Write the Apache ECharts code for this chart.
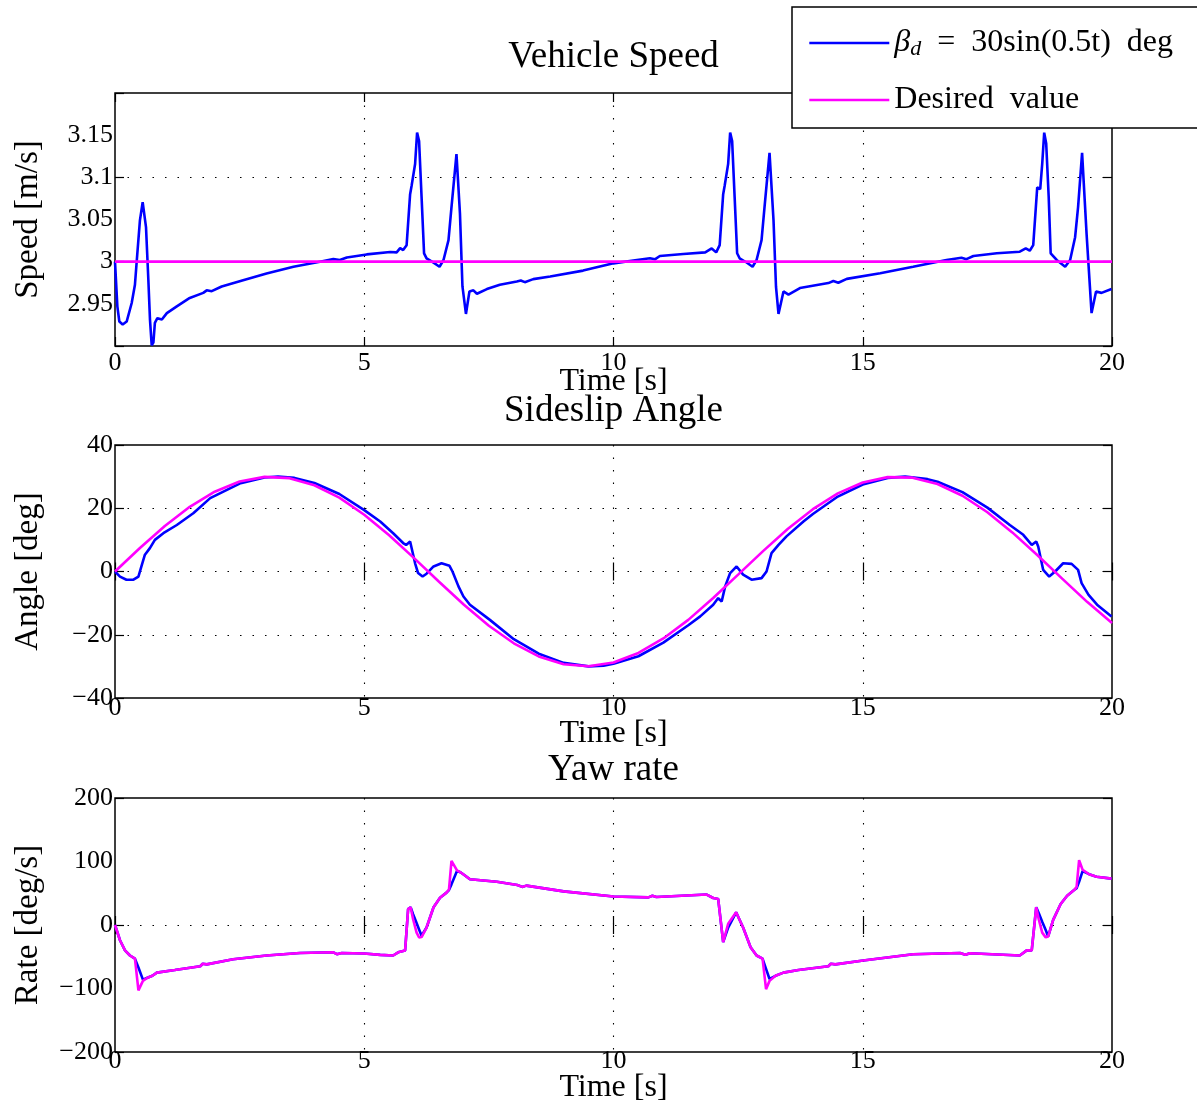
<!DOCTYPE html>
<html><head><meta charset="utf-8">
<script src="https://cdn.jsdelivr.net/npm/echarts@6/dist/echarts.min.js"></script>
<style>html,body{margin:0;padding:0;background:#fff}#c{width:1197px;height:1106px}</style>
</head><body><div id="c"></div>
<script>
// ---------- data ----------
const seriesNames = ['βd = 30sin(0.5t) deg', 'Desired value'];
const plotTitles = ['Vehicle Speed', 'Sideslip Angle', 'Yaw rate'];
const yNames = ['Speed [m/s]', 'Angle [deg]', 'Rate [deg/s]'];
const xName = 'Time [s]';
const xTickLabels = [0, 5, 10, 15, 20];

const speedTime = [0, 0.047, 0.087, 0.154, 0.234, 0.335, 0.40, 0.448, 0.50, 0.555, 0.588, 0.622, 0.669, 0.702, 0.736, 0.77, 0.80, 0.85, 0.94, 1.04, 1.24, 1.50, 1.77, 1.84, 1.94, 2.14, 2.57, 3.04, 3.58, 4.11, 4.38, 4.51, 4.65, 5.05, 5.52, 5.65, 5.72, 5.78, 5.85, 5.92, 5.95, 5.98, 6.02, 6.06, 6.10, 6.15, 6.20, 6.25, 6.39, 6.51, 6.59, 6.69, 6.75, 6.85, 6.92, 6.97, 7.04, 7.11, 7.19, 7.26, 7.46, 7.72, 8.06, 8.14, 8.22, 8.39, 8.73, 9.39, 10.0, 10.47, 10.73, 10.83, 10.93, 11.40, 11.84, 11.97, 12.06, 12.13, 12.20, 12.23, 12.26, 12.30, 12.34, 12.38, 12.43, 12.48, 12.53, 12.67, 12.79, 12.87, 12.97, 13.03, 13.13, 13.21, 13.26, 13.31, 13.41, 13.51, 13.74, 14.31, 14.41, 14.51, 14.68, 15.35, 16.01, 16.68, 16.98, 17.08, 17.22, 17.69, 18.15, 18.27, 18.35, 18.42, 18.50, 18.56, 18.60, 18.64, 18.68, 18.73, 18.77, 18.89, 19.06, 19.16, 19.26, 19.32, 19.40, 19.49, 19.59, 19.68, 19.79, 19.99];
const speedActual = [3.0, 2.947, 2.929, 2.9255, 2.929, 2.951, 2.9726, 3.0099, 3.049, 3.0706, 3.0706, 3.041, 2.9785, 2.931, 2.901, 2.904, 2.9275, 2.933, 2.9314, 2.939, 2.947, 2.957, 2.963, 2.966, 2.965, 2.9706, 2.978, 2.986, 2.994, 3.0, 3.003, 3.002, 3.005, 3.0086, 3.0114, 3.011, 3.016, 3.0138, 3.0196, 3.080, 3.090, 3.090, 3.1158, 3.153, 3.143, 3.0765, 3.0099, 3.004, 2.9988, 2.994, 3.002, 3.0255, 3.0647, 3.1275, 3.057, 2.9706, 2.938, 2.9647, 2.966, 2.962, 2.9675, 2.9726, 2.9765, 2.9776, 2.9757, 2.9793, 2.9824, 2.9894, 2.998, 3.002, 3.004, 3.0028, 3.0067, 3.009, 3.011, 3.0157, 3.011, 3.0196, 3.080, 3.090, 3.090, 3.116, 3.153, 3.143, 3.0765, 3.010, 3.004, 2.999, 2.994, 3.002, 3.0255, 3.065, 3.129, 3.049, 2.970, 2.938, 2.9647, 2.961, 2.9687, 2.9746, 2.977, 2.975, 2.9796, 2.9863, 2.994, 3.002, 3.0047, 3.003, 3.0067, 3.0099, 3.0118, 3.0157, 3.013, 3.0196, 3.088, 3.086, 3.116, 3.153, 3.140, 3.077, 3.0099, 3.002, 2.994, 3.002, 3.029, 3.065, 3.129, 3.033, 2.939, 2.9647, 2.963, 2.9675];
const speedDesiredTime = [0, 20];
const speedDesired = [3, 3];

const angleTime = [0, 0.1, 0.23, 0.37, 0.47, 0.53, 0.6, 0.7, 0.8, 0.97, 1.24, 1.57, 1.91, 2.5, 3.0, 3.27, 3.6, 4.0, 4.5, 5.0, 5.32, 5.58, 5.78, 5.84, 5.92, 5.96, 6.02, 6.08, 6.17, 6.25, 6.39, 6.55, 6.71, 6.77, 6.89, 6.99, 7.12, 7.52, 8.0, 8.5, 9.0, 9.5, 9.8, 10.0, 10.5, 11.0, 11.5, 11.74, 12.0, 12.1, 12.17, 12.24, 12.34, 12.47, 12.6, 12.77, 12.97, 13.07, 13.17, 13.31, 13.47, 13.81, 14.0, 14.5, 15.0, 15.5, 15.85, 16.3, 16.5, 17.0, 17.5, 17.95, 18.22, 18.39, 18.48, 18.52, 18.62, 18.74, 18.86, 19.02, 19.19, 19.32, 19.39, 19.53, 19.7, 19.99];
const angleActual = [0, -1.6, -2.6, -2.6, -1.6, 1.6, 5.3, 7.4, 10, 12.1, 14.7, 18.4, 23.2, 27.8, 29.7, 30.0, 29.6, 28.0, 24.5, 19.4, 15.8, 12.1, 9.0, 8.4, 9.5, 9.0, 2.6, -0.5, -1.6, -0.7, 1.6, 2.6, 1.8, 0, -4.7, -7.9, -10.5, -15.3, -21.4, -26.0, -28.9, -30.0, -29.8, -29.2, -26.8, -22.5, -17.0, -14.2, -10.5, -8.4, -9.5, -4.7, -0.5, 1.6, -1.0, -2.6, -2.1, 0, 5.8, 8.4, 11.1, 15.8, 18.2, 23.7, 27.5, 29.6, 30.0, 29.2, 28.4, 25.1, 20.2, 14.7, 11.6, 8.4, 9.5, 7.9, 0.5, -1.6, 0, 2.6, 2.4, 0.5, -3.7, -7.4, -10.5, -14.2];
const angleDesiredTime = [0, 0.5, 1, 1.5, 2, 2.5, 3, 3.5, 4, 4.5, 5, 5.5, 6, 6.5, 7, 7.5, 8, 8.5, 9, 9.5, 10, 10.5, 11, 11.5, 12, 12.5, 13, 13.5, 14, 14.5, 15, 15.5, 16, 16.5, 17, 17.5, 18, 18.5, 19, 19.5, 20];
const angleDesired = [0, 7.42, 14.38, 20.45, 25.24, 28.47, 29.92, 29.52, 27.28, 23.34, 17.95, 11.45, 4.23, -3.25, -10.52, -17.15, -22.70, -26.85, -29.33, -29.98, -28.77, -25.77, -21.17, -15.30, -8.38, -1.00, 6.45, 13.50, 19.71, 24.71, 28.14, 29.84, 29.68, 27.68, 23.96, 18.73, 12.36, 5.21, -2.26, -9.59, -16.32];

const rateTime = [0, 0.1, 0.2, 0.3, 0.4, 0.47, 0.56, 0.65, 0.75, 0.84, 1.2, 1.71, 1.76, 1.84, 2.37, 3.04, 3.71, 4.38, 4.45, 4.55, 5.0, 5.32, 5.58, 5.68, 5.82, 5.88, 5.93, 5.98, 6.05, 6.1, 6.15, 6.25, 6.39, 6.52, 6.65, 6.7, 6.75, 6.86, 6.93, 7.02, 7.12, 7.66, 8.07, 8.17, 8.25, 9.0, 10.0, 10.7, 10.78, 10.86, 11.87, 12.0, 12.1, 12.2, 12.3, 12.46, 12.6, 12.75, 12.87, 12.99, 13.06, 13.13, 13.25, 13.41, 13.71, 14.31, 14.36, 14.45, 15.01, 16.01, 16.95, 17.06, 17.15, 18.15, 18.29, 18.39, 18.48, 18.53, 18.6, 18.67, 18.72, 18.82, 18.97, 19.1, 19.24, 19.29, 19.34, 19.41, 19.54, 19.69, 19.99];
const rateActual = [0, -24, -40, -48, -53, -67, -86, -83, -80, -75, -71, -65, -61, -62, -54, -48, -44, -43, -46, -44, -45, -47, -48, -43, -40, 25, 28, 17, 3, -7, -17, -4, 28, 43, 51, 55, 64, 85, 83, 78, 72, 68, 63, 60, 62, 53, 45, 43.5, 46, 44, 48, 42.5, 41, -27, -4, 20, -4, -35, -48, -53, -69, -85, -80, -75, -71, -65, -61, -62, -56, -46, -44, -47, -44.5, -48, -40, -40, 28, 19, 5, -8, -18, 8, 33, 46, 55, 58, 68, 85, 80, 76, 73];
const rateDesired = [0, -24, -40, -48, -53, -103, -88, -83, -80, -75, -71, -65, -61, -62, -54, -48, -44, -43, -46, -44, -45, -47, -48, -43, -40, 25, 28, 9, -12, -19.5, -19, -4, 28, 43, 51, 56, 101, 86, 83, 78, 72, 68, 63, 60, 62, 53, 45, 43.5, 46, 44, 48, 42.5, 41, -27, 2, 20, -4, -35, -48, -53, -101, -88, -80, -75, -71, -65, -61, -62, -56, -46, -44, -47, -44.5, -48, -40, -40, 28, 9, -12, -19.5, -18, 8, 33, 46, 55, 60, 102, 87, 80, 76, 73];

// ---------- chart ----------
const FONT = '"Liberation Serif", "Times New Roman", serif';
const BLUE = '#0000ff', MAGENTA = '#ff00ff';
const pairs = (t, v) => t.map((x, i) => [x, v[i]]);

const panels = [
  { top: 93, height: 253, min: 2.9, max: 3.2, labelInt: 0.05, gridInt: 0.1, xMargin: 4,
    blue: pairs(speedTime, speedActual), mag: pairs(speedDesiredTime, speedDesired) },
  { top: 445, height: 253, min: -40, max: 40, labelInt: 20, gridInt: 20, xMargin: -3,
    blue: pairs(angleTime, angleActual), mag: pairs(angleDesiredTime, angleDesired) },
  { top: 798, height: 254, min: -200, max: 200, labelInt: 100, gridInt: 200, xMargin: -4,
    blue: pairs(rateTime, rateActual), mag: pairs(rateTime, rateDesired) }
];

const grid = [], xAxis = [], yAxis = [], series = [], title = [];
const tickStyle = { inside: true, length: 9, lineStyle: { color: '#000', width: 1.2 } };
const dotted = { show: true, showMinLine: false, showMaxLine: false,
  lineStyle: { color: '#000', width: 1.1, type: [1.5, 11] } };

panels.forEach((p, i) => {
  grid.push({ left: 115, right: 85, top: p.top, height: p.height, show: true,
    outerBoundsMode: 'none', containLabel: false,
    borderColor: '#000', borderWidth: 1.5, backgroundColor: 'rgba(0,0,0,0)' });
  xAxis.push({
    gridIndex: i, type: 'value', position: 'bottom', min: xTickLabels[0], max: xTickLabels[xTickLabels.length - 1], interval: 5,
    axisLine: { show: false }, axisTick: tickStyle, splitLine: dotted,
    axisLabel: { color: '#000', fontFamily: FONT, fontSize: 26, margin: p.xMargin },
    name: xName, nameLocation: 'middle', nameGap: 20, nameMoveOverlap: false,
    nameTextStyle: { color: '#000', fontFamily: FONT, fontSize: 32 }
  });
  xAxis.push({
    gridIndex: i, type: 'value', position: 'top', min: 0, max: 20, interval: 5,
    axisLine: { show: false }, axisTick: tickStyle, axisLabel: { show: false }, splitLine: { show: false }
  });
  const yBase = yAxis.length;
  yAxis.push({
    gridIndex: i, type: 'value', position: 'left', min: p.min, max: p.max, interval: p.labelInt,
    axisLine: { show: false }, axisTick: { show: false }, splitLine: { show: false },
    axisLabel: { color: '#000', fontFamily: FONT, fontSize: 26, margin: 2,
      showMinLabel: i !== 0, showMaxLabel: i !== 0,
      formatter: v => { const r = Math.round(v * 100) / 100;
        if (i === 0 && (r <= p.min || r >= p.max)) return '';
        return String(r).replace('-', '\u2212'); } },
    name: yNames[i], nameLocation: 'middle', nameGap: 70, nameMoveOverlap: false,
    nameTextStyle: { color: '#000', fontFamily: FONT, fontSize: 33 }
  });
  yAxis.push({
    gridIndex: i, type: 'value', position: 'left', min: p.min, max: p.max, interval: p.gridInt,
    axisLine: { show: false }, axisTick: tickStyle, axisLabel: { show: false }, splitLine: dotted
  });
  yAxis.push({
    gridIndex: i, type: 'value', position: 'right', min: p.min, max: p.max, interval: p.gridInt,
    axisLine: { show: false }, axisTick: tickStyle, axisLabel: { show: false }, splitLine: { show: false }
  });
  series.push({
    name: seriesNames[0], type: 'line', xAxisIndex: i * 2, yAxisIndex: yBase,
    data: p.blue, showSymbol: false, symbol: 'none', z: 2,
    lineStyle: { color: BLUE, width: 2.6 }, itemStyle: { color: BLUE }
  });
  series.push({
    name: seriesNames[1], type: 'line', xAxisIndex: i * 2, yAxisIndex: yBase,
    data: p.mag, showSymbol: false, symbol: 'none', z: 3,
    lineStyle: { color: MAGENTA, width: 2.6 }, itemStyle: { color: MAGENTA }
  });
});

const titleTops = [39, 393, 752];
plotTitles.forEach((t, i) => title.push({
  text: t, left: 613.5, top: titleTops[i], textAlign: 'center', padding: 0,
  textStyle: { color: '#000', fontFamily: FONT, fontSize: 37, fontWeight: 'normal' }
}));

const chart = echarts.init(document.getElementById('c'), null, { renderer: 'canvas' });
chart.setOption({
  animation: false,
  backgroundColor: '#fff',
  title, grid, xAxis, yAxis, series,
  legend: {
    data: seriesNames, orient: 'vertical', left: 792, top: 7,
    padding: [20, 60, 12, 16], itemGap: 24, itemWidth: 80, itemHeight: 2,
    backgroundColor: '#fff', borderColor: '#000', borderWidth: 1.5, borderRadius: 0,
    z: 10, selectedMode: false,
    lineStyle: { width: 2.6 },
    itemStyle: { opacity: 0 },
    formatter: n => n === seriesNames[0]
      ? '{g|β}{s|d}{t|\u2002=\u200230sin(0.5t)\u2002deg}' : '{t|Desired\u2002value}',
    textStyle: {
      color: '#000', fontFamily: FONT, fontSize: 32,
      rich: {
        g: { fontFamily: FONT, fontSize: 32, fontStyle: 'italic', lineHeight: 34 },
        s: { fontFamily: FONT, fontSize: 22, fontStyle: 'italic', lineHeight: 14, verticalAlign: 'bottom' },
        t: { fontFamily: FONT, fontSize: 32, lineHeight: 34 }
      }
    }
  }
});
</script>
</body></html>
